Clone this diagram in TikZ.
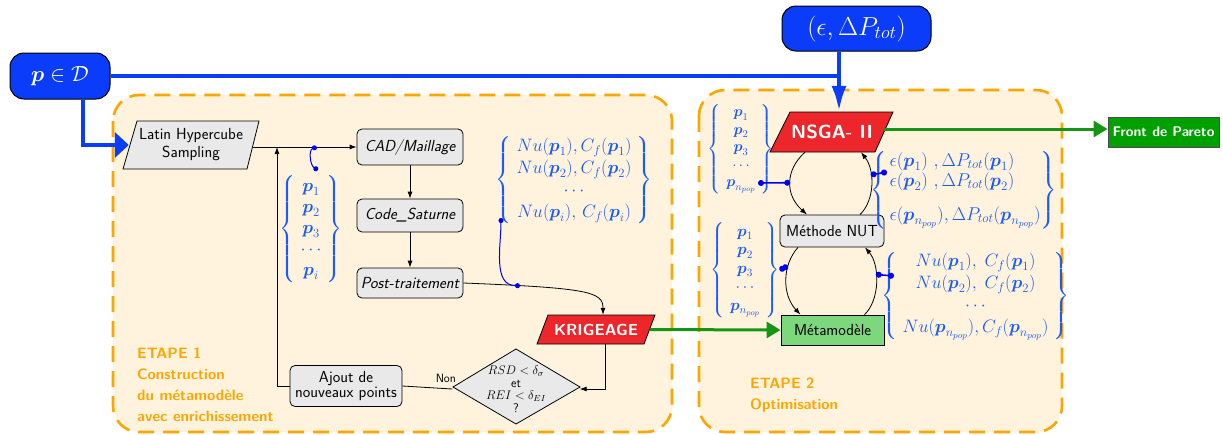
\RequirePackage{fix-cm}
\documentclass[tikz,border=0pt]{standalone}
\usepackage{amsmath,amssymb}
\usetikzlibrary{arrows.meta,calc}
\definecolor{bgor}{RGB}{255,243,222}
\definecolor{dashor}{RGB}{255,165,0}
\definecolor{boxgray}{RGB}{233,233,233}
\definecolor{topblue}{RGB}{10,60,250}
\definecolor{mblue}{RGB}{25,90,255}
\definecolor{dotblue}{RGB}{0,0,240}
\definecolor{redbox}{RGB}{236,38,42}
\definecolor{arrgreen}{RGB}{20,150,20}
\definecolor{frontgreen}{RGB}{0,160,0}
\definecolor{metagreen}{RGB}{125,215,125}
\tikzset{
  sfbase/.style={font=\fontsize{16}{18}\selectfont\sffamily},
  graybox/.style={draw=black, line width=0.8pt, fill=boxgray, rounded corners=5pt, inner sep=0pt, sfbase},
  topbox/.style={draw=black, line width=1pt, fill=topblue, text=white, rounded corners=14pt, inner sep=0pt},
  zone/.style={draw=dashor, fill=bgor, line width=2.6pt, dash pattern=on 16pt off 9pt, rounded corners=26pt},
  parbox/.style={draw=black, line width=0.8pt},
  flow/.style={-{Latex[length=7pt,width=5pt]}, line width=0.8pt},
  bluelink/.style={dotblue, line width=1.6pt, {Circle[length=6pt]}-{Circle[length=6pt]}},
  thinlink/.style={dotblue, line width=1pt, {Circle[length=5pt]}-{Circle[length=5pt]}},
  mtext/.style={text=mblue, inner sep=0pt},
  etape/.style={text=dashor, font=\fontsize{15}{21}\selectfont\sffamily\bfseries, align=left, anchor=north west, inner sep=0pt},
  greenarrow/.style={arrgreen, line width=3pt, -{Triangle[length=14pt,width=16pt]}},
  bigblue/.style={topblue, line width=4.5pt},
  whitebold/.style={text=white, inner sep=0pt}
}
\begin{document}
\begin{tikzpicture}[x=1pt,y=-1pt]
\useasboundingbox (0,0) rectangle (1223,434);
% zones
\path[zone] (113,95) rectangle (672,432);
\path[zone] (699,90) rectangle (1062,432);

% top boxes
\node[topbox, minimum width=100pt, minimum height=46pt, font=\fontsize{22}{24}\selectfont] (pD) at (60,76) {$\boldsymbol{p}\in\mathcal{D}$};
\node[topbox, minimum width=149pt, minimum height=45pt, font=\fontsize{26}{28}\selectfont] (eps) at (856.5,28.5) {$(\epsilon,\Delta P_{tot})$};

% ETAPE 1 nodes
\filldraw[parbox, fill=boxgray] (137,121) -- (259,121) -- (247,169) -- (123,169) -- cycle;
\node[sfbase, align=center, minimum width=124pt, minimum height=48pt, inner sep=0pt] (lhs) at (191,145) {Latin Hypercube\\Sampling};
\node[graybox, minimum width=106pt, minimum height=36pt, font=\fontsize{16}{18}\selectfont\sffamily\itshape] (cad) at (410,147) {CAD/Maillage};
\node[graybox, minimum width=106pt, minimum height=33pt, font=\fontsize{16}{18}\selectfont\sffamily\itshape] (code) at (410,215.5) {Code\_Saturne};
\node[graybox, minimum width=106pt, minimum height=30pt, font=\fontsize{16}{18}\selectfont\sffamily\itshape] (post) at (410,283) {Post-traitement};
\node[graybox, minimum width=112pt, minimum height=41pt, align=center, font=\fontsize{16}{13}\selectfont\sffamily] (ajout) at (346,386) {Ajout de\\nouveaux points};
\filldraw[parbox, fill=boxgray] (453,387) -- (516,349) -- (580,387) -- (516,424) -- cycle;
\node[minimum width=127pt, minimum height=75pt, inner sep=0pt, align=center, font=\fontsize{12.5}{12.5}\selectfont\sffamily] (test) at (516,389) {$RSD<\delta_\sigma$\\et\\$REI<\delta_{EI}$\\?};
\filldraw[parbox, fill=redbox] (548,315) -- (655,315) -- (644,344) -- (537,344) -- cycle;
\node[whitebold, minimum width=107pt, minimum height=29pt, font=\fontsize{16}{18}\selectfont\sffamily\bfseries] (krig) at (596,329.5) {KRIGEAGE};

% ETAPE 2 nodes
\filldraw[parbox, fill=redbox] (790,112) -- (893,112) -- (875,152) -- (770,152) -- cycle;
\node[whitebold, minimum width=104pt, minimum height=40pt, font=\fontsize{19}{20}\selectfont\sffamily\bfseries] (nsga) at (832,132) {NSGA- II};
\node[graybox, minimum width=104pt, minimum height=32pt] (nut) at (832,231) {Méthode NUT};
\node[draw=black, line width=0.8pt, fill=metagreen, minimum width=103pt, minimum height=30pt, inner sep=0pt, sfbase] (meta) at (832.5,330) {Métamodèle};
\node[draw=black!70, line width=0.8pt, fill=frontgreen, text=white, font=\fontsize{14}{16}\selectfont\sffamily\bfseries, minimum width=111pt, minimum height=30pt, inner sep=0pt] (front) at (1163.5,132) {Front de Pareto};

% math blocks
\node[mtext, font=\fontsize{18}{21}\selectfont] (pb0) at (311,229) {$\left\{\begin{array}{c}\boldsymbol{p}_1\\\boldsymbol{p}_2\\\boldsymbol{p}_3\\\cdots\\\boldsymbol{p}_i\end{array}\right\}$};
\node[mtext, font=\fontsize{18}{22}\selectfont] (nb0) at (574,180) {$\left\{\begin{array}{c}Nu(\boldsymbol{p}_1),C_f(\boldsymbol{p}_1)\\Nu(\boldsymbol{p}_2),C_f(\boldsymbol{p}_2)\\\cdots\\Nu(\boldsymbol{p}_i),\,C_f(\boldsymbol{p}_i)\end{array}\right\}$};
\node[mtext, font=\fontsize{15}{17.5}\selectfont] (pb1) at (741,149) {$\left\{\begin{array}{c}\boldsymbol{p}_1\\\boldsymbol{p}_2\\\boldsymbol{p}_3\\\cdots\\\boldsymbol{p}_{n_{pop}}\end{array}\right\}$};
\node[mtext, font=\fontsize{16}{18.5}\selectfont] (pb2) at (745,270) {$\left\{\begin{array}{c}\boldsymbol{p}_1\\\boldsymbol{p}_2\\\boldsymbol{p}_3\\\cdots\\\boldsymbol{p}_{n_{pop}}\end{array}\right\}$};
\node[mtext, font=\fontsize{18.5}{20}\selectfont] (eb) at (963.5,190) {$\left\{\begin{array}{@{\,}l@{}}\epsilon(\boldsymbol{p}_1)\ ,\Delta P_{tot}(\boldsymbol{p}_1)\\\epsilon(\boldsymbol{p}_2)\ ,\Delta P_{tot}(\boldsymbol{p}_2)\\[14pt]\epsilon(\boldsymbol{p}_{n_{pop}}),\Delta P_{tot}(\boldsymbol{p}_{n_{pop}})\end{array}\right\}$};
\node[mtext, font=\fontsize{18}{22}\selectfont] (nb2) at (975.5,296) {$\left\{\begin{array}{@{\;}c@{\;}}Nu(\boldsymbol{p}_1),\;C_f(\boldsymbol{p}_1)\\Nu(\boldsymbol{p}_2),\;C_f(\boldsymbol{p}_2)\\\cdots\\Nu(\boldsymbol{p}_{n_{pop}}),C_f(\boldsymbol{p}_{n_{pop}})\end{array}\right\}$};

% labels
\node[etape] (et1) at (137,348) {ETAPE 1\\Construction\\du métamodèle\\avec enrichissement};
\node[etape] (et2) at (750,378) {ETAPE 2\\Optimisation};

% thick blue connectors
\coordinate (jn) at (839,76);
\draw[bigblue] (pD.east) -- (jn);
\draw[bigblue, -{Latex[length=26pt,width=15pt]}] ($(eps.south)+(-17.5,0)$) -- ($(nsga.north)+(7,0)$);
\draw[bigblue, -{Triangle[length=14pt,width=25pt]}] ($(pD.south)+(23,0)$) |- (lhs.west);

% flow in step 1
\coordinate (jl) at (277,147);
\draw[flow] (lhs.east |- cad.west) -- (cad.west) coordinate[pos=0.615] (lp);
\draw[flow] (ajout.west) -| (jl);
\draw[flow] (cad) -- (code);
\draw[flow] (code) -- (post);
\draw[flow] (post.east) .. controls (590,288) and (603,292) .. ($(krig.north)+(7,0)$) coordinate[pos=0.175] (dpost);
\draw[flow] ($(krig.south)+(9,0)$) |- (test.east);
\draw[line width=0.8pt] (test.west) -- node[pos=0.13, above=2pt, font=\fontsize{12}{12}\selectfont\sffamily] (non) {Non} (ajout.east);

% blue small links step 1
\coordinate (ptop) at (318,170);
\coordinate (nd0) at (501,218);
\draw[thinlink] (lp) to[out=200,in=150] (ptop);
\draw[thinlink] (dpost) to[out=180,in=-90] (nd0);

% green
\draw[greenarrow] (krig.east) -- (meta.west);
\draw[greenarrow] ($(nsga.east)+(0,-3)$) -- ($(front.west)+(0,-3)$);

% loops step 2
\draw[flow] ($(nsga.south)+(-27,0)$) .. controls (785,170) and (785,195) .. ($(nut.north)+(-25,0)$) coordinate[pos=0.5] (cl1);
\draw[flow] ($(nut.north)+(28,0)$) .. controls (875,200) and (875,170) .. ($(nsga.south)+(29,0)$) coordinate[pos=0.64] (cr1);
\draw[flow] ($(nut.south)+(-34,0)$) .. controls (782,265) and (782,295) .. ($(meta.north)+(-32,0)$) coordinate[pos=0.3] (cl2);
\draw[flow] ($(meta.north)+(32,0)$) .. controls (880,300) and (880,265) .. ($(nut.south)+(33,0)$) coordinate[pos=0.6] (cr2);

% blue links step 2
\coordinate (pd1) at (758,183);
\coordinate (ed) at (887,172);
\coordinate (nd) at (894,276);
\draw[bluelink] (pd1) -- (cl1);
\draw[bluelink] (pb2.east) -- (cl2);
\draw[bluelink] (cr1) -- (ed);
\draw[bluelink] (cr2) -- (nd);
\end{tikzpicture}
\end{document}
